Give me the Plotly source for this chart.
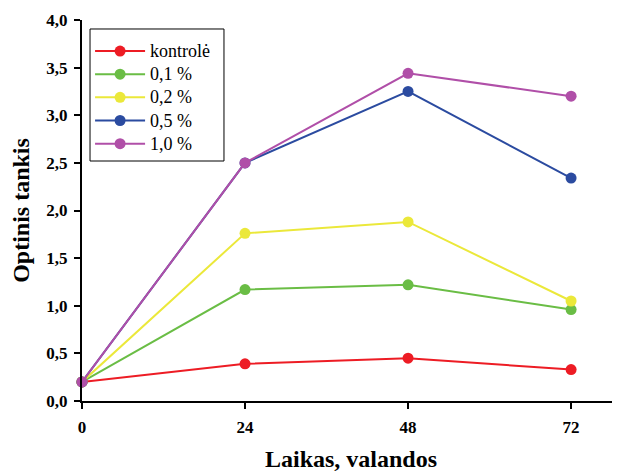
import plotly.graph_objects as go

hours = [0, 24, 48, 72]
series_names = ["kontrolė", "0,1 %", "0,2 %", "0,5 %", "1,0 %"]
kontrole = [0.20, 0.39, 0.45, 0.33]
c01 = [0.20, 1.17, 1.22, 0.96]
c02 = [0.20, 1.76, 1.88, 1.05]
c05 = [0.20, 2.50, 3.25, 2.34]
c10 = [0.20, 2.50, 3.44, 3.20]
colors = ["#ED1C24", "#6ABD45", "#EBE83A", "#2B4BA0", "#B04FA8"]
y_ticks = [0, 0.5, 1, 1.5, 2, 2.5, 3, 3.5, 4]

fig = go.Figure()
for name, vals, col in zip(series_names, [kontrole, c01, c02, c05, c10], colors):
    fig.add_trace(go.Scatter(
        x=hours, y=vals,
        name='<span style="font-size:18px">' + name + '</span>',
        mode="lines+markers",
        line=dict(color=col, width=2),
        marker=dict(color=col, size=11),
        cliponaxis=False,
    ))

font_family = "Liberation Serif"
# legend frame
fig.add_shape(type="rect", xref="paper", yref="paper",
              x0=0.0149, x1=0.2639, y0=0.6299, y1=0.9764,
              line=dict(color="black", width=1), fillcolor="white", layer="above")

# page body has an 8px default margin, so the figure is 8px smaller and offset
fig.update_layout(
    width=612, height=465,
    margin=dict(l=74, r=0, t=12, b=72, autoexpand=False),
    paper_bgcolor="white", plot_bgcolor="white",
    separators=", ",
    font=dict(family=font_family, color="black"),
    showlegend=True,
    legend=dict(
        x=0.015, y=0.962, xanchor="left", yanchor="top",
        borderwidth=0, bgcolor="rgba(0,0,0,0)",
        font=dict(size=15.5, family=font_family),
        itemwidth=50, tracegroupgap=0,
    ),
    xaxis=dict(
        range=[0, 79.2], tickvals=hours, ticktext=[str(h) for h in hours],
        showline=True, linecolor="black", linewidth=2,
        ticks="outside", ticklen=6, tickwidth=2, tickcolor="black",
        showgrid=False, zeroline=False, automargin=False,
        tickfont=dict(size=17, family=font_family, weight="bold"),
        ticklabelstandoff=4,
        title=dict(text="<b>Laikas, valandos</b>", font=dict(size=24), standoff=14),
    ),
    yaxis=dict(
        range=[0, 4], tickvals=y_ticks, tickformat=".1f",
        showline=True, linecolor="black", linewidth=2,
        ticks="outside", ticklen=6, tickwidth=2, tickcolor="black",
        showgrid=False, zeroline=False, automargin=False,
        tickfont=dict(size=17, family=font_family, weight="bold"),
        ticklabelstandoff=3,
        title=dict(text="<b>Optinis tankis</b>", font=dict(size=24), standoff=10),
    ),
)

fig.write_html("out.html")
